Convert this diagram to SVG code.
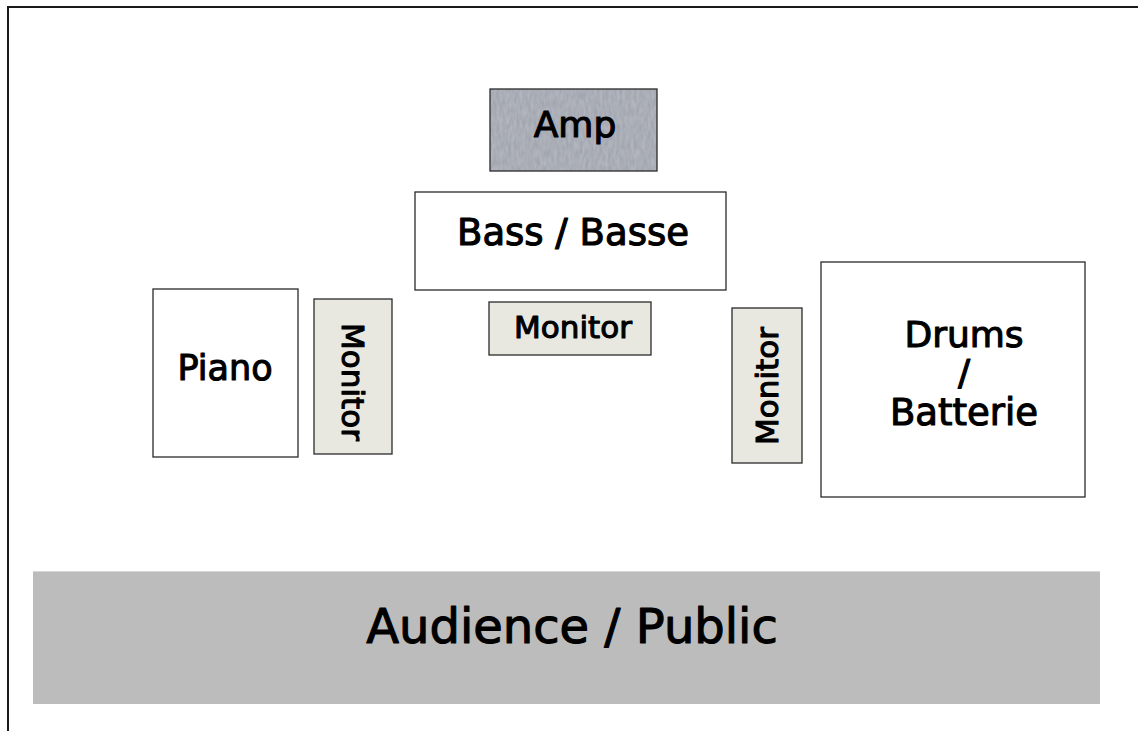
<svg xmlns="http://www.w3.org/2000/svg" width="1138" height="731" viewBox="0 0 1138 731">
  <style>
    .box { stroke: #2a2a2a; stroke-width: 1.3; }
    .white { fill: #ffffff; }
    .mon { fill: #e8e8e1; }
    .amp { fill: #9a9ea8; }
    .lbl { font-family: "DejaVu Sans", "Liberation Sans", sans-serif; fill: #000; stroke: #000; stroke-width: 1.1; stroke-linejoin: round; text-anchor: middle; }
  </style>
  <defs>
    <filter id="grain" x="0" y="0" width="100%" height="100%">
      <feTurbulence type="fractalNoise" baseFrequency="0.35 0.12" numOctaves="2" seed="4" result="n"/>
      <feColorMatrix in="n" type="matrix" values="0 0 0 0 0.64  0 0 0 0 0.66  0 0 0 0 0.71  0 0 0 0.5 0" result="c"/>
      <feComposite in="c" in2="SourceGraphic" operator="atop"/>
    </filter>
  </defs>
  <rect x="0" y="0" width="1138" height="731" fill="#ffffff"/>
  <g id="frame">
    <path d="M8 731 V7 H1138" fill="none" stroke="#1a1a1a" stroke-width="2"/>
  </g>
  <g id="connectors"/>
  <g id="amp">
    <rect x="490" y="89" width="167" height="82" fill="#9a9ea8" filter="url(#grain)"/>
    <rect class="box" x="490" y="89" width="167" height="82" fill="none"/>
    <text class="lbl" x="575" y="137" font-size="36">Amp</text>
  </g>
  <g id="bass">
    <rect class="box white" x="415" y="192" width="311" height="98"/>
    <text class="lbl" x="573" y="245" font-size="37">Bass / Basse</text>
  </g>
  <g id="monitor-center">
    <rect class="box mon" x="489" y="302" width="162" height="53"/>
    <text class="lbl" x="573" y="338" font-size="31">Monitor</text>
  </g>
  <g id="piano">
    <rect class="box white" x="153" y="289" width="145" height="168"/>
    <text class="lbl" x="225" y="380" font-size="35">Piano</text>
  </g>
  <g id="monitor-left">
    <rect class="box mon" x="314" y="299" width="78" height="155"/>
    <text class="lbl" font-size="31" transform="translate(342 382) rotate(90)">Monitor</text>
  </g>
  <g id="monitor-right">
    <rect class="box mon" x="732" y="308" width="70" height="155"/>
    <text class="lbl" font-size="31" transform="translate(778 386) rotate(-90)">Monitor</text>
  </g>
  <g id="drums">
    <rect class="box white" x="821" y="262" width="264" height="235"/>
    <text class="lbl" x="964" y="347" font-size="36">Drums</text>
    <text class="lbl" x="964" y="385" font-size="36">/</text>
    <text class="lbl" x="964" y="425" font-size="37">Batterie</text>
  </g>
  <g id="audience">
    <rect x="33" y="571" width="1067" height="133" fill="#bcbcbc"/>
    <line x1="33" y1="571.5" x2="1100" y2="571.5" stroke="#d6d6d6" stroke-width="1"/>
    <text class="lbl" x="572" y="643" font-size="48">Audience / Public</text>
  </g>
</svg>
